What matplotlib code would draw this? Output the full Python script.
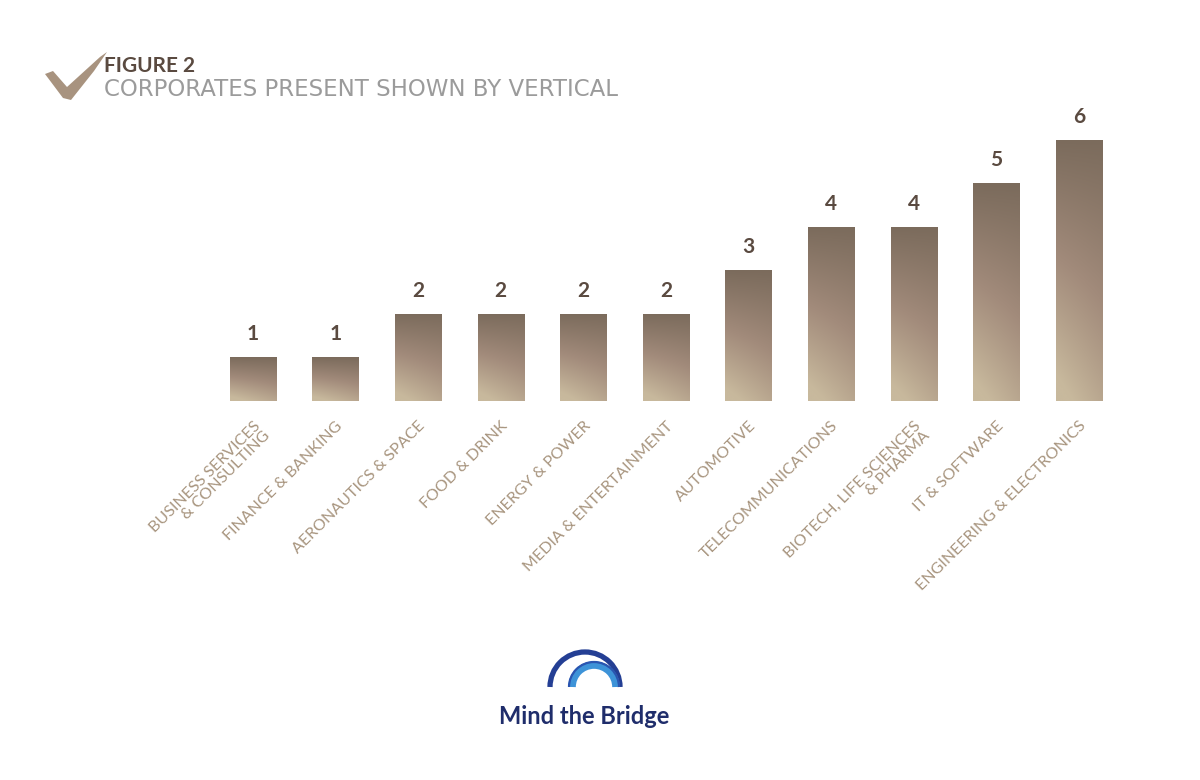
import numpy as np
import matplotlib.pyplot as plt
import matplotlib.transforms as mtransforms
from matplotlib.patches import Polygon, Arc
from matplotlib.colors import LinearSegmentedColormap

plt.rcParams['font.family'] = ['Lato', 'DejaVu Sans']

# data
verticals = ["BUSINESS SERVICES\n& CONSULTING", "FINANCE & BANKING", "AERONAUTICS & SPACE",
             "FOOD & DRINK", "ENERGY & POWER", "MEDIA & ENTERTAINMENT", "AUTOMOTIVE",
             "TELECOMMUNICATIONS", "BIOTECH, LIFE SCIENCES\n& PHARMA", "IT & SOFTWARE",
             "ENGINEERING & ELECTRONICS"]
corporates = [1, 1, 2, 2, 2, 2, 3, 4, 4, 5, 6]

bar_cmap = LinearSegmentedColormap.from_list("bronze", ["#7b6b5c", "#a28b7b", "#c8b99d"])

fig = plt.figure(figsize=(12, 7.8), dpi=100)
ax = fig.add_axes([0.1764, 0.486, 0.757, 0.3625])

x = np.arange(len(corporates))
bars = ax.bar(x, corporates, width=0.56, color="none", edgecolor="none")

# gradient fill per bar: dark at the top, light at bottom-left
gy, gx = np.mgrid[0:1:200j, 0:1:40j]
grad = np.clip(0.8 * gy + 0.3 * (1 - gx) * gy, 0, 1)
for b in bars:
    x0, w, h = b.get_x(), b.get_width(), b.get_height()
    im = ax.imshow(grad, cmap=bar_cmap, extent=[x0, x0 + w, 0, h], aspect="auto",
                   origin="upper", zorder=2, interpolation="bicubic")
    im.set_clip_path(b)
    ax.text(x0 + w / 2, h + 0.3, str(int(h)), ha="center", va="bottom",
            fontsize=15, fontweight="bold", color="#5a4a40")

ax.set_xlim(-0.5, len(corporates) - 0.5)
ax.set_ylim(0, 6.5)
ax.set_xticks(x)
ax.set_xticklabels(verticals, rotation=45, ha="right", va="top", rotation_mode="anchor",
                   fontsize=11.5, color="#a8957f", linespacing=0.95)
shift = mtransforms.ScaledTranslation(-0.04, 0, fig.dpi_scale_trans)
for lab in ax.get_xticklabels():
    lab.set_transform(lab.get_transform() + shift)
ax.tick_params(axis="x", length=0, pad=13)
ax.set_yticks([])
for s in ax.spines.values():
    s.set_visible(False)

# overlay in pixel coordinates for header and logo
ov = fig.add_axes([0, 0, 1, 1], zorder=-1)
ov.set_xlim(0, 1200)
ov.set_ylim(780, 0)
ov.axis("off")

check = Polygon([(45, 74), (53, 71), (67, 87), (100, 57), (107, 52), (94, 71), (71, 100), (63, 98)],
                closed=True, facecolor="#a8937f", edgecolor="none")
ov.add_patch(check)
ov.text(104, 66, "FIGURE 2", fontsize=15, fontweight="bold", color="#5a4a40", va="center", ha="left")
ov.text(104, 89, "CORPORATES PRESENT SHOWN BY VERTICAL", fontsize=16.5, color="#9b9b9b",
        va="center", ha="left", family="DejaVu Sans")

# logo
ov.add_patch(Arc((585, 687), 70, 70, theta1=180, theta2=360, lw=3.8, color="#243f94"))
ov.add_patch(Arc((594, 687), 44, 44, theta1=180, theta2=360, lw=5.5, color="#3d93d8"))
ov.add_patch(Arc((594, 687), 50, 50, theta1=180, theta2=360, lw=1.6, color="#2a55b0"))
ov.text(584, 716, "Mind the Bridge", fontsize=17, fontweight="bold", color="#1f2d6b",
        ha="center", va="center")

fig.savefig("out.png", dpi=100, facecolor="white")
